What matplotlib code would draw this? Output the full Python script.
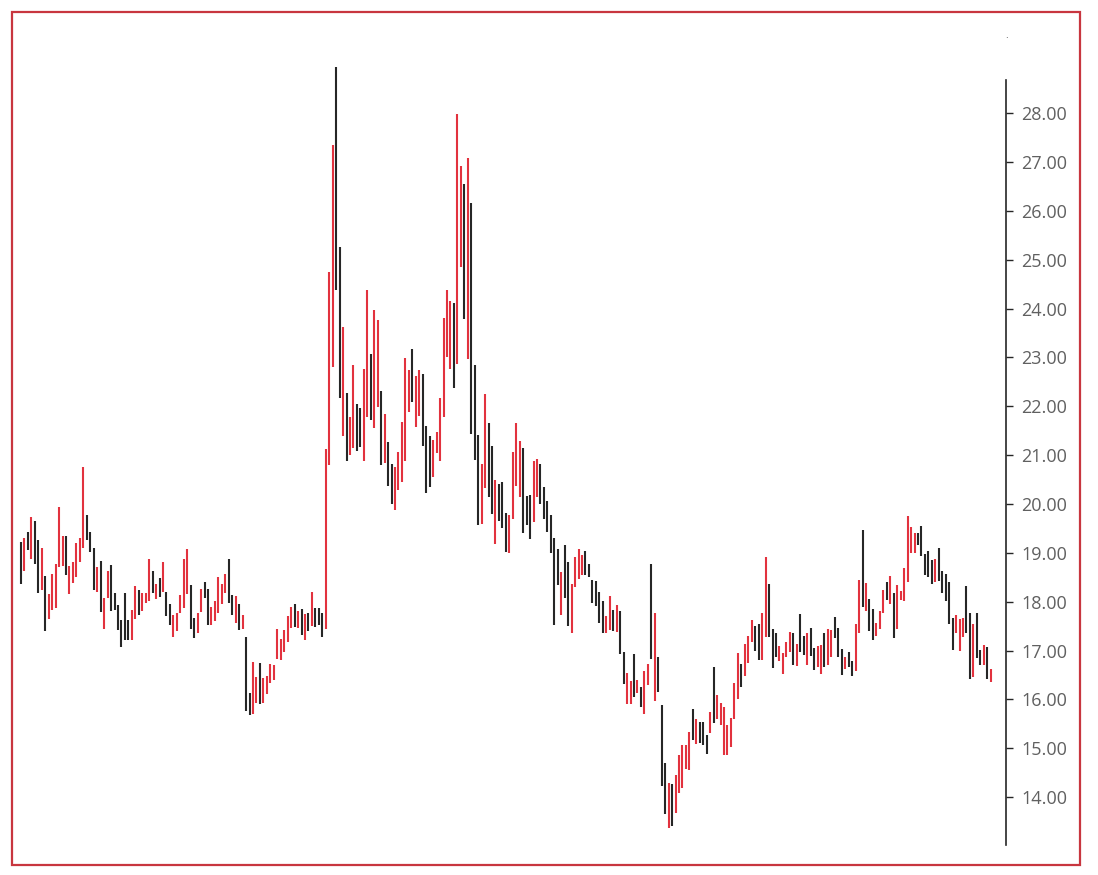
import matplotlib
matplotlib.use("Agg")
from matplotlib import pyplot as plt
from matplotlib.patches import Rectangle
import numpy as np

# high / low of each bar, left to right
highs = [
    19.23, 19.31, 19.43, 19.74, 19.65, 19.26, 19.09, 18.52, 18.15, 18.56,
    18.77, 19.94, 19.34, 19.34, 18.73, 18.82, 19.20, 19.31, 20.75, 19.77,
    19.43, 19.09, 18.71, 18.84, 18.08, 18.63, 18.75, 18.17, 17.93, 17.62,
    18.18, 17.62, 17.84, 18.32, 18.25, 18.17, 18.17, 18.87, 18.63, 18.36,
    18.48, 18.82, 18.20, 17.95, 17.73,
    17.76, 18.13, 18.88, 19.07, 18.34, 17.66, 17.77, 18.27, 18.41, 18.26,
    17.90, 18.01, 18.51, 18.36, 18.57, 18.87, 18.13, 18.11, 17.95, 17.73,
    17.27, 16.14, 16.77, 16.45, 16.75, 16.43, 16.47, 16.72, 16.70, 17.44,
    17.23, 17.42, 17.70, 17.90, 17.95, 17.81, 17.86, 17.75, 17.77, 18.20,
    17.88, 17.88, 17.77, 21.12,
    24.75, 27.35, 28.94, 25.26, 23.63, 22.27, 21.78, 22.84, 22.04, 21.96,
    22.76, 24.38, 23.08, 23.98, 23.77, 22.32, 21.84, 21.27, 20.82, 20.75,
    21.07, 21.67, 22.98, 22.75, 23.18, 22.62, 22.74, 22.66, 21.60, 21.39,
    21.32, 21.48, 22.18, 23.80, 24.38, 24.16, 24.12, 27.99, 26.92, 26.55,
    27.09, 26.17, 22.84,
    21.41, 20.82, 22.26, 21.65, 21.19, 20.49, 20.42, 20.46, 19.82, 19.77,
    21.07, 21.65, 21.29, 21.14, 20.16, 20.18, 20.88, 20.93, 20.82, 20.35,
    20.07, 19.77, 19.31, 19.07, 18.61, 19.16, 18.82, 18.36, 18.92, 19.07,
    18.95, 19.04, 18.78, 18.44, 18.43, 18.20, 18.02, 17.70, 18.11, 17.84,
    17.93,
    17.81, 16.98, 16.55, 16.38, 16.93, 16.39, 16.26, 16.59, 16.72, 18.78,
    17.77, 16.86, 15.88, 14.70, 14.28, 14.27, 14.45, 14.86, 15.06, 15.06,
    15.34, 15.80, 15.59, 15.54, 15.54, 15.27, 15.75, 16.66, 16.09, 15.93,
    15.84, 15.48, 15.62, 16.34, 16.96, 16.72, 17.13, 17.30, 17.62, 17.50,
    17.54, 17.77, 18.92, 18.36, 17.44,
    17.35, 17.09, 16.96, 17.18, 17.38, 17.36, 17.13, 17.75, 17.30, 17.36,
    17.47, 17.06, 17.09, 17.12, 17.35, 17.45, 17.43, 17.68, 17.47, 17.04,
    16.86, 16.98, 16.79, 17.54, 18.44, 19.46, 18.39, 18.05, 17.86, 17.56,
    17.81, 18.25, 18.41, 18.52, 18.17, 18.34, 18.22, 18.70, 19.75, 19.52,
    19.41, 19.41, 19.55, 18.97, 19.04, 18.85, 18.88, 19.09, 18.63, 18.56,
    18.41, 17.66, 17.73, 17.64, 17.66, 18.32, 17.77, 17.54, 17.77, 17.02,
    17.12, 17.08, 16.62,
]

lows = [
    18.36, 18.63, 19.06, 18.87, 18.78, 18.17, 18.25, 17.40, 17.64, 17.83,
    17.88, 18.71, 18.73, 18.54, 18.16, 18.39, 18.51, 18.82, 19.11, 19.26,
    19.02, 18.24, 18.20, 17.79, 17.45, 18.07, 17.81, 17.83, 17.42, 17.07,
    17.21, 17.21, 17.21, 17.64, 17.73, 17.81, 17.98, 18.02, 18.18, 18.05,
    18.09, 18.20, 17.71, 17.52, 17.28,
    17.40, 17.76, 17.88, 18.16, 17.45, 17.25, 17.36, 17.79, 18.07, 17.52,
    17.52, 17.60, 17.77, 17.96, 18.17, 17.98, 17.73, 17.57, 17.42, 17.44,
    15.77, 15.68, 15.71, 15.92, 15.90, 15.92, 16.11, 16.33, 16.39, 16.83,
    16.81, 16.98, 17.17, 17.47, 17.49, 17.47, 17.32, 17.21, 17.40, 17.50,
    17.49, 17.52, 17.28, 17.44,
    20.80, 22.81, 24.38, 22.18, 21.39, 20.89, 21.00, 21.14, 21.09, 21.17,
    20.89, 21.78, 21.72, 21.55, 21.99, 20.80, 20.84, 20.37, 20.01, 19.88,
    20.29, 20.46, 20.89, 21.89, 22.09, 21.58, 21.80, 21.19, 20.23, 20.35,
    20.56, 21.05, 20.89, 21.79, 23.01, 22.77, 22.37, 22.87, 24.85, 23.78,
    22.96, 21.43, 20.90,
    19.57, 19.59, 20.32, 20.14, 19.79, 19.18, 19.66, 19.50, 19.02, 18.99,
    19.69, 20.37, 20.14, 19.41, 19.57, 19.29, 19.64, 20.15, 20.00, 19.69,
    19.43, 18.99, 17.52, 18.34, 17.73, 18.07, 17.50, 17.36, 18.30, 18.46,
    18.54, 18.54, 18.50, 17.98, 17.91, 17.57, 17.35, 17.36, 17.42, 17.40,
    17.38,
    16.93, 16.32, 15.90, 15.90, 16.04, 16.14, 15.85, 15.71, 16.29, 16.82,
    15.97, 16.16, 14.22, 13.65, 13.36, 13.40, 13.67, 14.08, 14.18, 14.57,
    14.56, 15.17, 15.09, 15.11, 15.07, 14.88, 15.32, 15.52, 15.60, 15.48,
    14.86, 14.86, 15.02, 15.60, 16.00, 16.25, 16.47, 16.74, 17.18, 17.00,
    16.81, 16.81, 17.28, 17.28, 16.64,
    16.87, 16.79, 16.53, 16.87, 16.98, 16.70, 16.68, 16.98, 16.91, 16.70,
    16.89, 16.60, 16.66, 16.53, 16.66, 16.70, 16.87, 17.25, 16.86, 16.50,
    16.62, 16.67, 16.47, 16.59, 17.35, 17.90, 17.81, 17.40, 17.21, 17.30,
    17.45, 17.77, 18.03, 17.95, 17.25, 17.44, 18.03, 18.02, 18.41, 18.99,
    18.99, 19.16, 18.93, 18.54, 18.50, 18.36, 18.41, 18.43, 18.17, 18.02,
    17.54, 17.01, 17.35, 17.00, 17.27, 17.36, 16.41, 16.45, 16.84, 16.70,
    16.70, 16.41, 16.35,
]

# r = up bar (red), k = down bar (black)
updown = (
    "krkrk" "krkrr" "rrrkr" "rrrrk" "kkrkr" "rkkkk" "kkrrk" "rrrkr" "krkkr"
    "rrrrk" "krrkk" "rrrrr" "kkrkr" "kkrrk" "rrrrr" "rrrrk" "rkrkr" "kkkr"
    "rrkkr" "krrkk" "rrkrr" "krkkr" "rrrrk" "rrkkk" "rrrrr" "rkrrk" "rkk"
    "krrkk" "rkkkr" "rrrkk" "krrkk" "kkkkr" "kkrrr" "rkkkk" "kkrrk" "r"
    "kkrrk" "rkrrk" "rkkkr" "krrrr" "rkrkk" "krkrr" "rrrrr" "krrrk" "krrkk"
    "krrrr" "krkkr" "kkrrk" "rrkkk" "rkkrr" "krkkr" "rrkrk" "rrrrr" "rkkkk"
    "krkkk" "kkrrr" "kkrkk" "rkr"
)

yticks = [14, 15, 16, 17, 18, 19, 20, 21, 22, 23, 24, 25, 26, 27, 28]

n = len(highs)
x = np.arange(n)
cols = ["#e2323e" if c == "r" else "#262626" for c in updown]

fig = plt.figure(figsize=(10.98, 8.75), dpi=100)
ax = fig.add_axes([14 / 1098, 30 / 875, 992 / 1098, 765 / 875])

# the 28.94 high pokes out above the axis top, as in the original
ax.vlines(x, lows, highs, colors=cols, linewidth=1.5, clip_on=False)

ax.set_xlim(-2.02, n - 1 + 4.42)
ax.set_ylim(13.02, 28.68)

for s in ["left", "top", "bottom"]:
    ax.spines[s].set_visible(False)
ax.spines["right"].set_color("#262626")
ax.spines["right"].set_linewidth(1.2)

ax.set_xticks([])
ax.yaxis.tick_right()
ax.set_yticks(yticks)
ax.set_yticklabels(["%.2f" % v for v in yticks])
ax.tick_params(axis="y", direction="out", length=5, width=1, color="#262626",
               pad=6, labelsize=13, labelcolor="#606060")
for lab in ax.get_yticklabels():
    lab.set_fontfamily(["Open Sans", "DejaVu Sans"])

# small dot above the axis, top right
fig.text(1006 / 1098, 1 - 35 / 875, ".", fontsize=6, color="#262626",
         ha="center", va="center")

# red frame round the whole picture
frame = Rectangle((12 / 1098, 10 / 875), 1068 / 1098, 853 / 875,
                  transform=fig.transFigure, fill=False,
                  edgecolor="#c8363f", linewidth=1.6)
fig.patches.append(frame)

fig.savefig("out.png", dpi=100)
